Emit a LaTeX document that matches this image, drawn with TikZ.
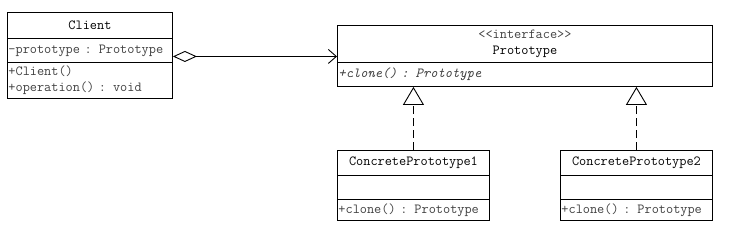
\documentclass[tikz,border=0pt]{standalone}
\usepackage{fontspec}
\usetikzlibrary{arrows.meta}
\newcommand{\umlfont}{\ttfamily\fontsize{13.9}{16}\selectfont}
\begin{document}
\begin{tikzpicture}[x=1pt, y=-1pt, line width=0.9pt,
        compart/.style={draw, anchor=north west, inner sep=0pt, font=\umlfont},
        title/.style={compart, align=center},
        members/.style={compart, align=left, inner xsep=1pt, text=black!75},
        agg/.style={{Diamond[open,length=24pt,width=11pt]}-{Straight Barb[length=8pt,width=14pt]}},
        realize/.style={-{Triangle[open,length=18pt,width=21pt]}, dash pattern=on 8pt off 4pt}]
      \useasboundingbox (0,0) rectangle (747,239);
      % Client
      \node[title, minimum width=165pt, minimum height=26pt] (clientname) at (7,12) {Client};
      \node[members, text width=163pt, minimum height=24pt] (clientattr) at (7,38)
            {-prototype : Prototype};
      \node[members, text width=163pt, minimum height=36pt] (clientops) at (7,62)
            {+Client()\\+operation() : void};
      % Interface Prototype
      \node[title, minimum width=375pt, minimum height=37pt] (protoname) at (337,25)
            {{\color{black!75}<{}<interface>{}>}\\Prototype};
      \node[members, text width=373pt, minimum height=24pt, font=\umlfont\itshape] (protoops) at (337,62)
            {+clone() : Prototype};
      % Concrete classes
      \node[title, minimum width=152pt, minimum height=25pt] (cp1name) at (337,150) {ConcretePrototype1};
      \node[compart, minimum width=152pt, minimum height=24pt] (cp1attr) at (337,175) {};
      \node[members, text width=150pt, minimum height=21pt] (cp1ops) at (337,199)
            {+clone() : Prototype};
      \node[title, minimum width=152pt, minimum height=25pt] (cp2name) at (560,150) {ConcretePrototype2};
      \node[compart, minimum width=152pt, minimum height=24pt] (cp2attr) at (560,175) {};
      \node[members, text width=150pt, minimum height=21pt] (cp2ops) at (560,199)
            {+clone() : Prototype};
      % Aggregation
      \draw[agg] ([yshift=-6pt]clientattr.east) -- ([yshift=-6pt]clientattr.east -| protoname.west);
      % Realization
      \foreach \c in {cp1,cp2}
        \draw[realize] (\c name.north) -- (\c name.north |- protoops.south);
\end{tikzpicture}
\end{document}
